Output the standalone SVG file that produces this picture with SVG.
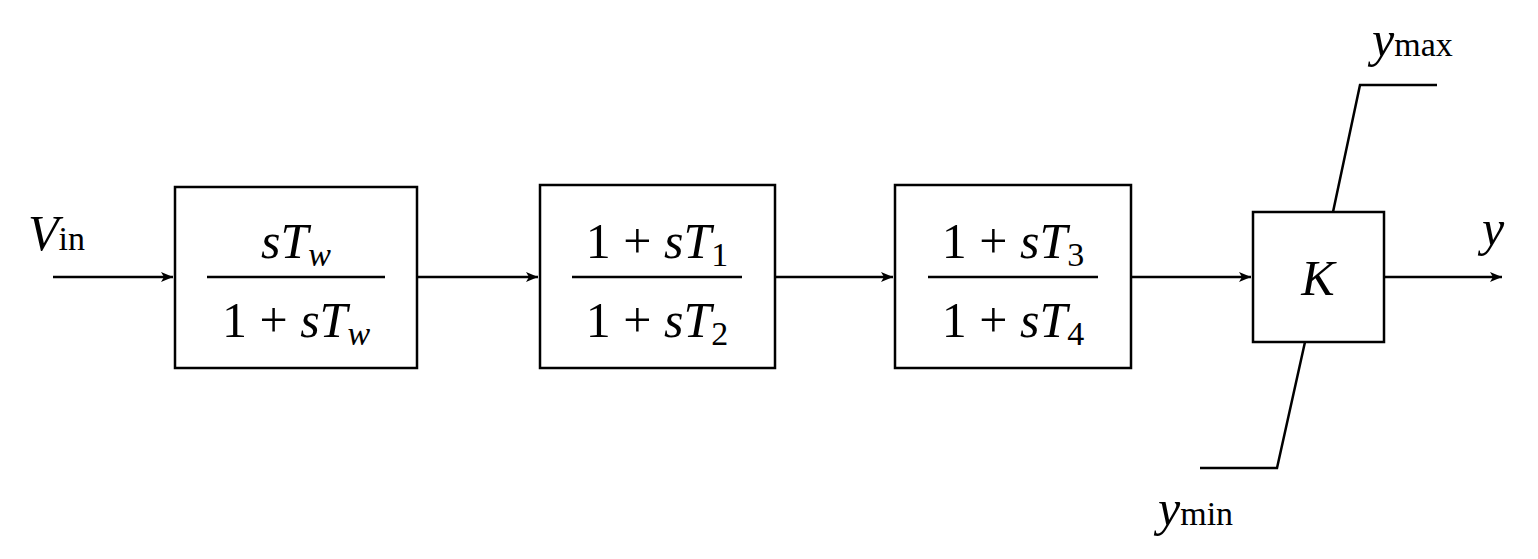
<svg xmlns="http://www.w3.org/2000/svg" width="1538" height="559" viewBox="0 0 1538 559">
<style>
.b{fill:#fff;stroke:#000;stroke-width:2.5}
.l{fill:none;stroke:#000;stroke-width:2.5}
text{font-family:"Liberation Serif","Times New Roman",serif;font-size:50px;fill:#000}
.i{font-style:italic}
.s{font-size:34px}
</style>
<defs><marker id="a" viewBox="0 0 12 10" refX="12" refY="5" markerWidth="12" markerHeight="10" markerUnits="userSpaceOnUse" orient="auto"><path d="M0,0L12,5L0,10L3,5Z"/></marker></defs>
<g id="connectors">
<line class="l" x1="53" y1="277" x2="173" y2="277" marker-end="url(#a)"/>
<line class="l" x1="417" y1="277" x2="538" y2="277" marker-end="url(#a)"/>
<line class="l" x1="775" y1="277" x2="893" y2="277" marker-end="url(#a)"/>
<line class="l" x1="1131" y1="277" x2="1251" y2="277" marker-end="url(#a)"/>
<line class="l" x1="1384" y1="277" x2="1502" y2="277" marker-end="url(#a)"/>
<polyline class="l" points="1333,212 1360,85 1437,85"/>
<polyline class="l" points="1305,342 1277,468 1200,468"/>
</g>
<g id="vin"><text x="28" y="250" class="i">V<tspan class="s" font-style="normal">in</tspan></text></g>
<g id="b1"><rect class="b" x="175" y="187" width="242" height="181"/>
<line class="l" x1="207" y1="277" x2="385" y2="277"/>
<text x="296" y="258" text-anchor="middle"><tspan class="i">sT<tspan class="s" dy="8">w</tspan></tspan></text>
<text x="296" y="337" text-anchor="middle">1 + <tspan class="i">sT<tspan class="s" dy="8">w</tspan></tspan></text></g>
<g id="b2"><rect class="b" x="540" y="185" width="235" height="183"/>
<line class="l" x1="572" y1="277" x2="742" y2="277"/>
<text x="657" y="258" text-anchor="middle">1 + <tspan class="i">sT</tspan><tspan class="s" dy="8">1</tspan></text>
<text x="657" y="337" text-anchor="middle">1 + <tspan class="i">sT</tspan><tspan class="s" dy="8">2</tspan></text></g>
<g id="b3"><rect class="b" x="895" y="185" width="236" height="183"/>
<line class="l" x1="928" y1="277" x2="1098" y2="277"/>
<text x="1013" y="258" text-anchor="middle">1 + <tspan class="i">sT</tspan><tspan class="s" dy="8">3</tspan></text>
<text x="1013" y="337" text-anchor="middle">1 + <tspan class="i">sT</tspan><tspan class="s" dy="8">4</tspan></text></g>
<g id="k"><rect class="b" x="1253" y="212" width="131" height="130"/>
<text x="1318" y="295" text-anchor="middle" class="i">K</text></g>
<g id="ymax"><text x="1372" y="56" class="i">y<tspan class="s" font-style="normal">max</tspan></text></g>
<g id="ymin"><text x="1158" y="525" class="i">y<tspan class="s" font-style="normal">min</tspan></text></g>
<g id="yout"><text x="1482" y="245" class="i">y</text></g>
</svg>
